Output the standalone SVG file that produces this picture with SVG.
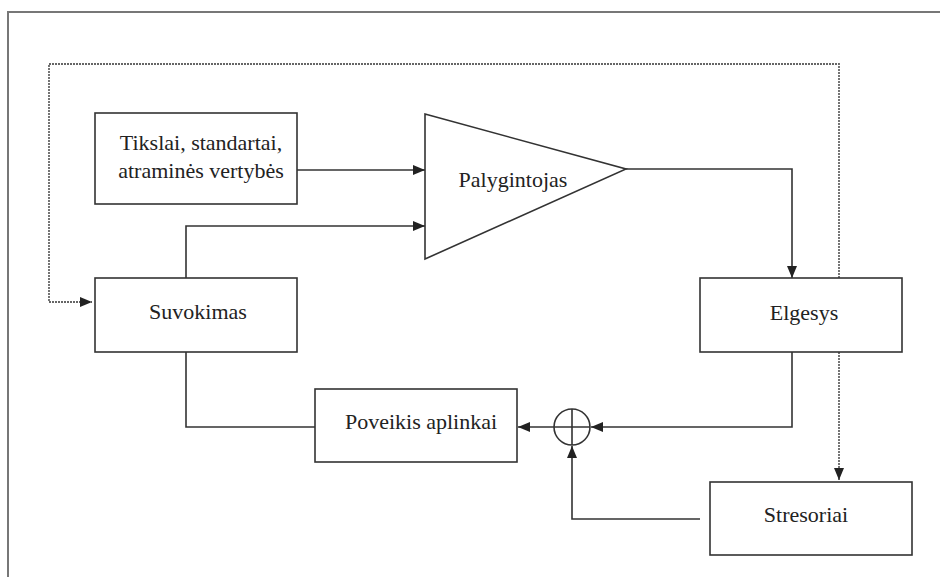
<svg xmlns="http://www.w3.org/2000/svg" width="940" height="577" viewBox="0 0 940 577">
<style>
.box{fill:#fff;stroke:#333;stroke-width:1.6}
.ln{fill:none;stroke:#333;stroke-width:1.6}
.dot{fill:none;stroke:#666;stroke-width:1.8;stroke-dasharray:2 1}
.t{font-family:"Liberation Serif","Times New Roman",serif;font-size:22px;fill:#222;text-anchor:middle}
</style>
<defs>
<marker id="ah" viewBox="0 0 12 10" refX="12" refY="5" markerWidth="12" markerHeight="10" markerUnits="userSpaceOnUse" orient="auto">
<path d="M0,0 L12,5 L0,10 Z" fill="#222"/>
</marker>
</defs>
<rect width="940" height="577" fill="#fff"/>
<path d="M8,577 V12 H940" fill="none" stroke="#777" stroke-width="2"/>
<g id="connectors">
<path class="dot" d="M839,278 V64 H49 V302 H92" marker-end="url(#ah)"/>
<path class="dot" d="M839,352 V480" marker-end="url(#ah)"/>
<path class="ln" d="M297,170 H425" marker-end="url(#ah)"/>
<path class="ln" d="M186,278 V226 H425" marker-end="url(#ah)"/>
<path class="ln" d="M626,169 H792 V278" marker-end="url(#ah)"/>
<path class="ln" d="M792,352 V427 H591" marker-end="url(#ah)"/>
<path class="ln" d="M554,427 H518" marker-end="url(#ah)"/>
<path class="ln" d="M186,352 V427 H315"/>
<path class="ln" d="M700,519 H572 V446" marker-end="url(#ah)"/>
</g>
<g id="tikslai">
<rect class="box" x="95" y="113" width="202" height="91"/>
<text class="t" x="201" y="150">Tikslai, standartai,</text>
<text class="t" x="201" y="178">atraminės vertybės</text>
</g>
<g id="palygintojas">
<path class="box" d="M425,114 L626,169 L425,259 Z"/>
<text class="t" x="513" y="187">Palygintojas</text>
</g>
<g id="suvokimas">
<rect class="box" x="95" y="278" width="202" height="74"/>
<text class="t" x="198" y="319">Suvokimas</text>
</g>
<g id="elgesys">
<rect class="box" x="700" y="278" width="202" height="74"/>
<text class="t" x="804" y="320">Elgesys</text>
</g>
<g id="poveikis">
<rect class="box" x="315" y="389" width="202" height="73"/>
<text class="t" x="421" y="429">Poveikis aplinkai</text>
</g>
<g id="sum">
<circle cx="572" cy="427" r="18" fill="#fff" stroke="#333" stroke-width="1.6"/>
<path class="ln" d="M554,427 H590 M572,409 V445"/>
</g>
<g id="stresoriai">
<rect class="box" x="710" y="482" width="202" height="73"/>
<text class="t" x="806" y="522">Stresoriai</text>
</g>
</svg>
